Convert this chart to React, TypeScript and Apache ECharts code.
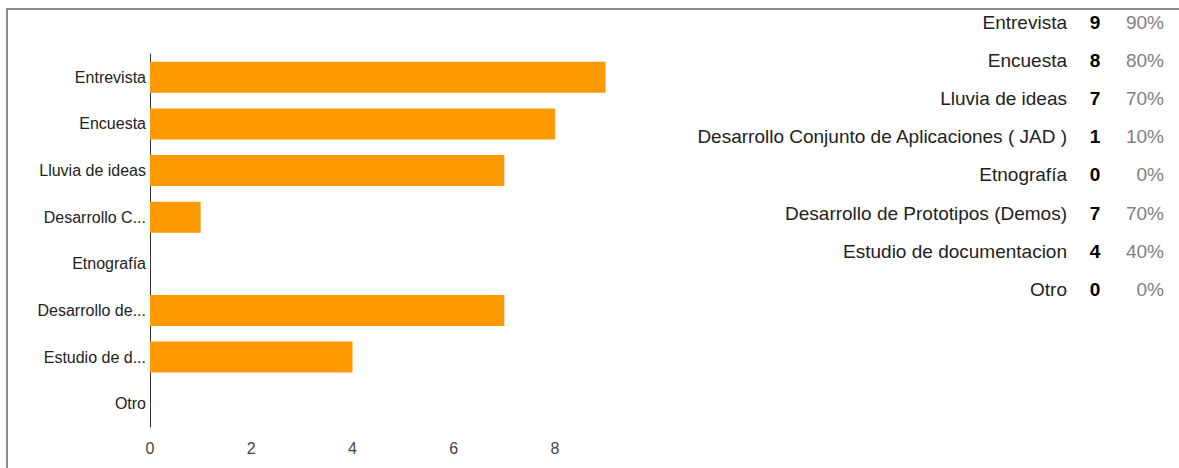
import React, { useEffect, useRef } from "react";
import * as echarts from "echarts";

const categories = [
  "Entrevista",
  "Encuesta",
  "Lluvia de ideas",
  "Desarrollo Conjunto de Aplicaciones ( JAD )",
  "Etnografía",
  "Desarrollo de Prototipos (Demos)",
  "Estudio de documentacion",
  "Otro",
];
const axisLabels = [
  "Entrevista",
  "Encuesta",
  "Lluvia de ideas",
  "Desarrollo C...",
  "Etnografía",
  "Desarrollo de...",
  "Estudio de d...",
  "Otro",
];
const counts = [9, 8, 7, 1, 0, 7, 4, 0];
const percents = ["90%", "80%", "70%", "10%", "0%", "70%", "40%", "0%"];
const xTicks = [0, 2, 4, 6, 8];

const FONT = "'Liberation Sans', Arial, sans-serif";

export default function App() {
  const ref = useRef<HTMLDivElement>(null);
  useEffect(() => {
    if (!ref.current) return;
    const chart = echarts.init(ref.current, null, { renderer: "svg" });
    const rowTop = 22.5;
    const rowStep = 38.1;
    const table: any[] = [];
    categories.forEach((c, i) => {
      const y = rowTop + i * rowStep;
      table.push({
        type: "text",
        x: 1067,
        y,
        style: { text: c, fill: "#222", font: `19px ${FONT}`, textAlign: "right", textVerticalAlign: "middle" },
      });
      table.push({
        type: "text",
        x: 1095,
        y,
        style: { text: String(counts[i]), fill: "#000", font: `bold 19px ${FONT}`, textAlign: "center", textVerticalAlign: "middle" },
      });
      table.push({
        type: "text",
        x: 1164,
        y,
        style: { text: percents[i], fill: "#808080", font: `19px ${FONT}`, textAlign: "right", textVerticalAlign: "middle" },
      });
    });
    chart.setOption({
      animation: false,
      backgroundColor: "#fff",
      grid: { left: 150, right: 573.4, top: 54, bottom: 41, containLabel: false },
      xAxis: {
        type: "value",
        min: 0,
        max: 9,
        interval: 2,
        axisLine: { show: false },
        axisTick: { show: false },
        splitLine: { show: false },
        axisLabel: {
          margin: 13,
          fontSize: 16,
          fontFamily: FONT,
          color: "#444",
          formatter: (v: number) => (xTicks.includes(v) ? String(v) : ""),
        },
      },
      yAxis: {
        type: "category",
        inverse: true,
        data: categories,
        axisLine: { show: true, lineStyle: { color: "#333", width: 1 } },
        axisTick: { show: false },
        splitLine: { show: false },
        axisLabel: {
          margin: 4,
          fontSize: 16,
          fontFamily: FONT,
          color: "#222",
          formatter: (_v: string, idx: number) => axisLabels[idx],
        },
      },
      series: [
        {
          type: "bar",
          data: counts,
          barWidth: 31,
          itemStyle: { color: "#ff9900" },
        },
      ],
      graphic: [
        { type: "line", shape: { x1: 7, y1: 9, x2: 1179, y2: 9 }, style: { stroke: "#8a8a8a", lineWidth: 2 } },
        { type: "line", shape: { x1: 7, y1: 8, x2: 7, y2: 468 }, style: { stroke: "#8a8a8a", lineWidth: 2 } },
        ...table,
      ],
    });
    return () => chart.dispose();
  }, []);
  return (
    <div
      ref={ref}
      style={{ position: "fixed", left: 0, top: 0, width: 1179, height: 468 }}
    />
  );
}
